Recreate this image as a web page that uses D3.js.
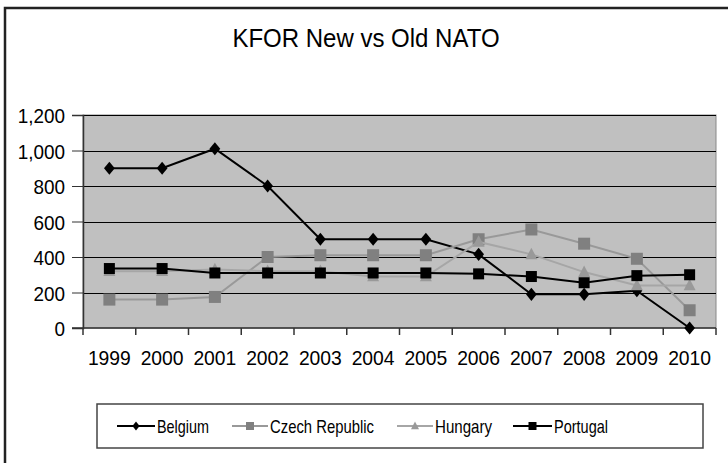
<!DOCTYPE html>
<html>
<head>
<meta charset="utf-8">
<script src="https://cdn.jsdelivr.net/npm/d3@7"></script>
<style>
  body { margin: 0; background: #fff; }
  svg { display: block; font-family: "Liberation Sans", Arial, sans-serif; }
</style>
</head>
<body>
<svg id="chart" width="728" height="463"></svg>
<script>
// Chart values
const years = ["1999", "2000", "2001", "2002", "2003", "2004", "2005", "2006", "2007", "2008", "2009", "2010"];
const belgium = [900, 900, 1010, 800, 500, 500, 500, 415, 190, 190, 210, 0];
const czech = [160, 160, 175, 400, 410, 410, 410, 500, 555, 475, 390, 100];
const hungary = [320, 320, 330, 320, 320, 290, 290, 485, 415, 315, 240, 240];
const portugal = [335, 335, 310, 310, 310, 310, 310, 305, 290, 255, 295, 300];
const yTicks = [0, 200, 400, 600, 800, 1000, 1200];

const series = [
  { name: "Belgium", values: belgium, line: "#000", fill: "#000", shape: "diamond" },
  { name: "Czech Republic", values: czech, line: "#999", fill: "#808080", shape: "square" },
  { name: "Hungary", values: hungary, line: "#a6a6a6", fill: "#999", shape: "triangle" },
  { name: "Portugal", values: portugal, line: "#000", fill: "#000", shape: "square" }
];

const svg = d3.select("#chart");
const plot = { left: 83, top: 115, right: 716, bottom: 328 };

// squeeze text a bit horizontally, like the original
function squeeze(sel, k) {
  sel.each(function () {
    const w = this.getComputedTextLength();
    d3.select(this).attr("textLength", w * k).attr("lengthAdjust", "spacingAndGlyphs");
  });
}

// outer chart frame (runs off the right and bottom edges)
svg.append("rect")
  .attr("x", 5).attr("y", 8)
  .attr("width", 760).attr("height", 480)
  .attr("fill", "none").attr("stroke", "#222").attr("stroke-width", 2.5);

svg.append("text")
  .attr("x", 366).attr("y", 47)
  .attr("text-anchor", "middle")
  .attr("font-size", 25)
  .text("KFOR New vs Old NATO")
  .call(squeeze, 0.96);

const x = d3.scaleBand().domain(years).range([plot.left, plot.right]);
const y = d3.scaleLinear().domain([0, 1200]).range([plot.bottom, plot.top]);

svg.append("rect")
  .attr("x", plot.left).attr("y", plot.top)
  .attr("width", plot.right - plot.left).attr("height", plot.bottom - plot.top)
  .attr("fill", "#c0c0c0").attr("stroke", "#888").attr("stroke-width", 1);

// gridlines
svg.append("g").selectAll("line")
  .data(yTicks.filter(d => d > 0))
  .join("line")
  .attr("x1", plot.left).attr("x2", plot.right)
  .attr("y1", d => Math.round(y(d)) + 0.5).attr("y2", d => Math.round(y(d)) + 0.5)
  .attr("stroke", "#000").attr("stroke-width", 1);

// y axis
const yAxis = svg.append("g")
  .attr("transform", `translate(${plot.left},0)`)
  .call(d3.axisLeft(y).tickValues(yTicks).tickSize(11).tickPadding(7).tickFormat(d3.format(",")));
yAxis.selectAll("text").attr("font-size", 21).attr("fill", "#000").attr("dy", "0.36em").call(squeeze, 0.9);
yAxis.selectAll("line").attr("stroke", "#333");
yAxis.select(".domain").attr("stroke", "#333").attr("stroke-width", 1.5);

// x axis, ticks between categories
const xg = svg.append("g").attr("transform", `translate(0,${plot.bottom})`);
xg.append("line")
  .attr("x1", plot.left - 11).attr("x2", plot.right)
  .attr("stroke", "#333").attr("stroke-width", 1.5);
const bounds = years.map(d => x(d)).concat([plot.right]);
xg.selectAll("line.tk")
  .data(bounds)
  .join("line").attr("class", "tk")
  .attr("x1", d => d).attr("x2", d => d)
  .attr("y1", 0).attr("y2", 7)
  .attr("stroke", "#333").attr("stroke-width", 1.5);
xg.selectAll("text")
  .data(years)
  .join("text")
  .attr("x", d => x(d) + x.bandwidth() / 2)
  .attr("y", 37)
  .attr("text-anchor", "middle")
  .attr("font-size", 21)
  .text(d => d)
  .call(squeeze, 0.92);

function marker(g, shape, cx, cy, fill, s) {
  if (shape === "diamond") {
    g.append("path")
      .attr("d", `M${cx},${cy - s * 0.55}L${cx + s * 0.45},${cy}L${cx},${cy + s * 0.55}L${cx - s * 0.45},${cy}Z`)
      .attr("fill", fill);
  } else if (shape === "square") {
    g.append("rect")
      .attr("x", cx - s / 2).attr("y", cy - s / 2)
      .attr("width", s).attr("height", s)
      .attr("fill", fill);
  } else {
    g.append("path")
      .attr("d", `M${cx},${cy - s * 0.55}L${cx + s * 0.5},${cy + s * 0.4}L${cx - s * 0.5},${cy + s * 0.4}Z`)
      .attr("fill", fill);
  }
}

const line = d3.line()
  .x((d, i) => x(years[i]) + x.bandwidth() / 2)
  .y(d => y(d));

const sizes = { "Belgium": 12, "Czech Republic": 12, "Hungary": 12, "Portugal": 11 };

series.forEach(s => {
  const g = svg.append("g");
  g.append("path")
    .attr("d", line(s.values))
    .attr("fill", "none")
    .attr("stroke", s.line)
    .attr("stroke-width", 2);
  s.values.forEach((v, i) => {
    marker(g, s.shape, x(years[i]) + x.bandwidth() / 2, y(v), s.fill, sizes[s.name]);
  });
});

// legend
svg.append("rect")
  .attr("x", 97).attr("y", 404)
  .attr("width", 606).attr("height", 44)
  .attr("fill", "#fff").attr("stroke", "#444").attr("stroke-width", 1.5);

const legendPos = [
  { x1: 117, x2: 155, tx: 157, w: 52 },
  { x1: 232, x2: 268, tx: 270, w: 104 },
  { x1: 397, x2: 433, tx: 435, w: 57 },
  { x1: 513, x2: 552, tx: 554, w: 54 }
];
const ly = 426;
series.forEach((s, i) => {
  const p = legendPos[i];
  const g = svg.append("g");
  g.append("line")
    .attr("x1", p.x1).attr("x2", p.x2)
    .attr("y1", ly).attr("y2", ly)
    .attr("stroke", s.line).attr("stroke-width", 2);
  marker(g, s.shape, (p.x1 + p.x2) / 2, ly, s.fill, 8);
  g.append("text")
    .attr("x", p.tx).attr("y", ly + 7)
    .attr("font-size", 19)
    .attr("textLength", p.w)
    .attr("lengthAdjust", "spacingAndGlyphs")
    .text(s.name);
});
</script>
</body>
</html>
